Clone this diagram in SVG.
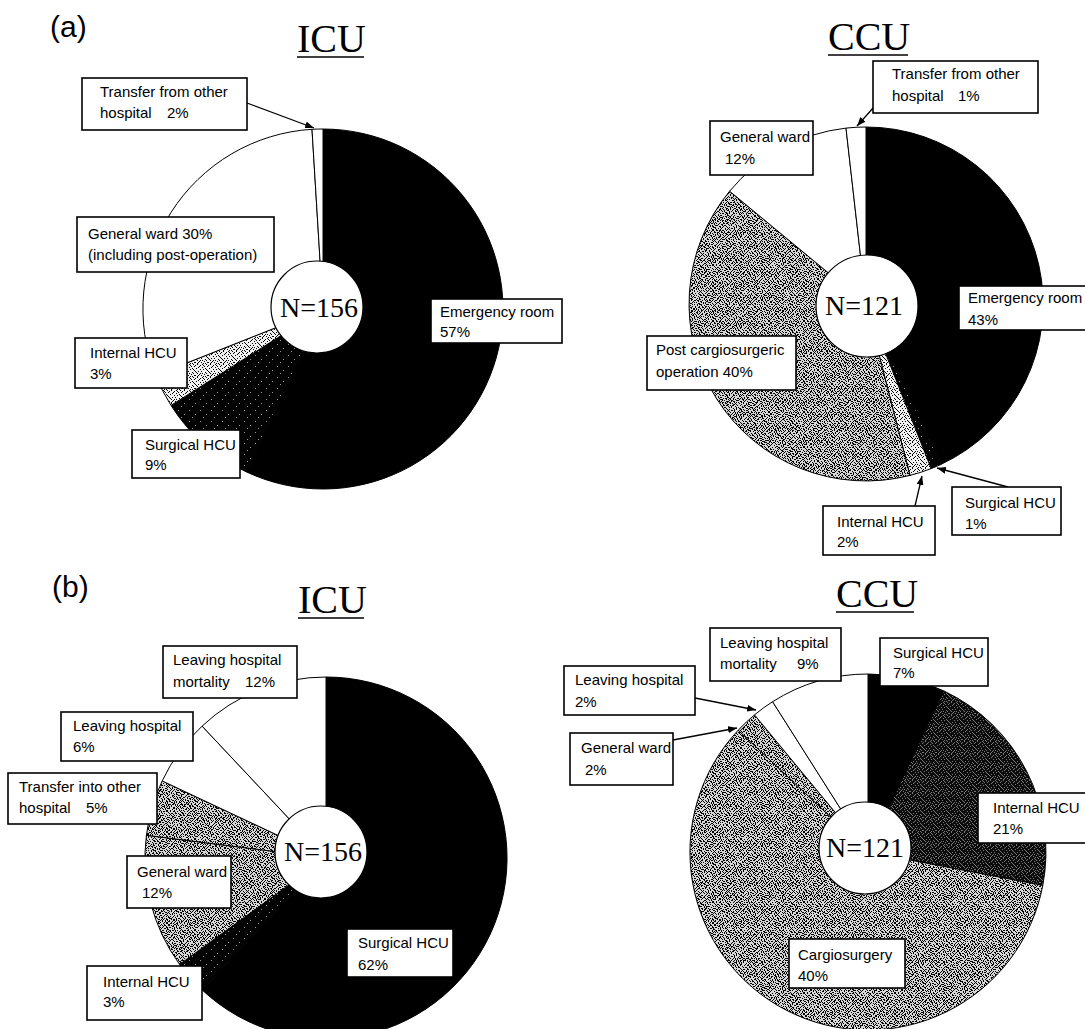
<svg xmlns="http://www.w3.org/2000/svg" xmlns:xlink="http://www.w3.org/1999/xlink" width="1085" height="1029" viewBox="0 0 1085 1029">
<style>
.box{fill:#fff;stroke:#000;stroke-width:1.6}
.lbl{font-family:"Liberation Sans",Arial,sans-serif;font-size:15px;fill:#000}
.title{font-family:"Liberation Serif","Times New Roman",serif;font-size:40px;fill:#000}
.tag{font-family:"Liberation Sans",Arial,sans-serif;font-size:30px;fill:#000}
.n{font-family:"Liberation Serif","Times New Roman",serif;font-size:28px;text-anchor:middle;fill:#000}
.ul{stroke:#000;stroke-width:1.6}
.sl{stroke:#000;stroke-width:1;stroke-linejoin:round}
.blk{fill:#000}
.wht{fill:#fff}
.stp{fill:url(#stip)}
.stl{fill:url(#stipL)}
.drk{fill:url(#dark)}
.dk2{fill:url(#dark2)}
.inner{fill:#fff;stroke:#000;stroke-width:1.2}
.conn{stroke:#000;stroke-width:1.3;fill:none;marker-end:url(#ah)}
</style>
<defs>
<path id="d7" d="M0 0h1v1h-1zM3 1h1v1h-1zM5 2h1v1h-1zM1 3h1v1h-1zM4 4h1v1h-1zM6 5h1v1h-1zM2 6h1v1h-1zM5 6h1v1h-1zM1 1h1v1h-1zM6 3h1v1h-1z"/>
<path id="d13" d="M2 0h1v1h-1zM7 0h1v1h-1zM11 0h1v1h-1zM0 1h1v1h-1zM5 1h1v1h-1zM8 1h1v1h-1zM9 2h1v1h-1zM12 2h1v1h-1zM4 2h1v1h-1zM3 3h1v1h-1zM7 3h1v1h-1zM1 4h1v1h-1zM10 4h1v1h-1zM5 5h1v1h-1zM8 5h1v1h-1zM11 5h1v1h-1zM12 6h1v1h-1zM0 7h1v1h-1zM3 7h1v1h-1zM6 7h1v1h-1zM1 8h1v1h-1zM10 8h1v1h-1zM2 9h1v1h-1zM5 9h1v1h-1zM7 9h1v1h-1zM11 9h1v1h-1zM4 10h1v1h-1zM9 10h1v1h-1zM0 11h1v1h-1zM3 11h1v1h-1zM6 11h1v1h-1zM12 11h1v1h-1zM2 12h1v1h-1zM8 12h1v1h-1zM10 12h1v1h-1z"/>
<path id="d11" d="M2 3h1v1h-1zM8 7h1v1h-1zM5 10h1v1h-1z"/>
<pattern id="a7" patternUnits="userSpaceOnUse" width="7" height="7"><use xlink:href="#d7" fill="#000"/></pattern>
<pattern id="b13" patternUnits="userSpaceOnUse" width="13" height="13"><use xlink:href="#d13" fill="#000"/></pattern>
<pattern id="stip" patternUnits="userSpaceOnUse" width="91" height="91">
<rect width="91" height="91" fill="#d6d6d6"/><rect width="91" height="91" fill="url(#a7)"/><rect width="91" height="91" fill="url(#b13)"/>
</pattern>
<pattern id="stipL" patternUnits="userSpaceOnUse" width="13" height="13">
<rect width="13" height="13" fill="#f0f0f0"/><use xlink:href="#d13" fill="#000"/>
</pattern>
<pattern id="dark" patternUnits="userSpaceOnUse" width="11" height="11">
<rect width="11" height="11" fill="#030303"/><use xlink:href="#d11" fill="#9a9a9a"/>
</pattern>
<pattern id="dark2" patternUnits="userSpaceOnUse" width="13" height="13">
<rect width="13" height="13" fill="#0b0b0b"/><use xlink:href="#d13" fill="#7a7a7a"/>
</pattern>
<marker id="ah" markerUnits="userSpaceOnUse" markerWidth="9" markerHeight="7" refX="9" refY="3.5" orient="auto">
<path d="M0,0 L9,3.5 L0,7 z" fill="#000"/>
</marker>
</defs>
<rect width="1085" height="1029" fill="#fff"/>

<text class="tag" x="50" y="37">(a)</text>
<text class="tag" x="52" y="597">(b)</text>

<g id="title-a-icu"><text class="title" x="297" y="52">ICU</text><line class="ul" x1="297" y1="57" x2="364" y2="57"/></g>
<g id="title-a-ccu"><text class="title" x="828" y="50">CCU</text><line class="ul" x1="828" y1="55" x2="908" y2="55"/></g>
<g id="title-b-icu"><text class="title" x="298" y="613">ICU</text><line class="ul" x1="298" y1="618" x2="364" y2="618"/></g>
<g id="title-b-ccu"><text class="title" x="836" y="607">CCU</text><line class="ul" x1="836" y1="612" x2="914" y2="612"/></g>

<g id="pie-a-icu">
<path class="sl blk" d="M323,309 L323,129 A180,180 0 1 1 246.4,471.9 Z"/>
<path class="sl drk" d="M323,309 L246.4,471.9 A180,180 0 0 1 171.0,405.4 Z"/>
<path class="sl stl" d="M323,309 L171.0,405.4 A180,180 0 0 1 155.6,375.3 Z"/>
<path class="sl wht" d="M323,309 L155.6,375.3 A180,180 0 0 1 312.0,129.3 Z"/>
<path class="sl wht" d="M323,309 L312.0,129.3 A180,180 0 0 1 323,129 Z"/>
<circle class="inner" cx="317" cy="307" r="46"/>
<text class="n" x="319" y="317">N=156</text>
</g>

<g id="pie-a-ccu">
<path class="sl blk" d="M866,304 L866,127 A177,177 0 0 1 941.4,464.2 Z"/>
<path class="sl drk" d="M866,304 L941.4,464.2 A177,177 0 0 1 931.2,468.6 Z"/>
<path class="sl stl" d="M866,304 L931.2,468.6 A177,177 0 0 1 910.0,475.4 Z"/>
<path class="sl stp" d="M866,304 L910.0,475.4 A177,177 0 0 1 729.6,191.2 Z"/>
<path class="sl wht" d="M866,304 L729.6,191.2 A177,177 0 0 1 846.0,128.1 Z"/>
<path class="sl wht" d="M866,304 L846.0,128.1 A177,177 0 0 1 866,127 Z"/>
<circle class="inner" cx="867" cy="306" r="51"/>
<text class="n" x="864" y="315">N=121</text>
</g>

<g id="pie-b-icu">
<path class="sl blk" d="M326,858 L326,677 A181,181 0 1 1 202.1,989.9 Z"/>
<path class="sl drk" d="M326,858 L202.1,989.9 A181,181 0 0 1 179.6,964.4 Z"/>
<path class="sl stp" d="M326,858 L179.6,964.4 A181,181 0 0 1 146.4,835.3 Z"/>
<path class="sl stp" d="M326,858 L146.4,835.3 A181,181 0 0 1 162.2,780.9 Z"/>
<path class="sl wht" d="M326,858 L162.2,780.9 A181,181 0 0 1 202.1,726.1 Z"/>
<path class="sl wht" d="M326,858 L202.1,726.1 A181,181 0 0 1 326,677 Z"/>
<circle class="inner" cx="321" cy="852" r="46"/>
<text class="n" x="323" y="861">N=156</text>
</g>

<g id="pie-b-ccu">
<path class="sl blk" d="M868,852 L868,674 A178,178 0 0 1 943.8,690.9 Z"/>
<path class="sl dk2" d="M868,852 L943.8,690.9 A178,178 0 0 1 1042.8,885.4 Z"/>
<path class="sl stp" d="M868,852 L1042.8,885.4 A178,178 0 1 1 738.2,730.2 Z"/>
<path class="sl stp" d="M868,852 L738.2,730.2 A178,178 0 0 1 754.5,714.9 Z"/>
<path class="sl wht" d="M868,852 L754.5,714.9 A178,178 0 0 1 772.6,701.7 Z"/>
<path class="sl wht" d="M868,852 L772.6,701.7 A178,178 0 0 1 868,674 Z"/>
<circle class="inner" cx="865" cy="848" r="46"/>
<text class="n" x="865" y="857">N=121</text>
</g>

<g id="connectors">
<path class="conn" d="M247,103 L314,128"/>
<path class="conn" d="M874,107 L857,126"/>
<path class="conn" d="M1008,487 L937,468"/>
<path class="conn" d="M915,506 L922,476"/>
<path class="conn" d="M695,698 L756,710"/>
<path class="conn" d="M673,740 L737,728"/>
</g>

<g id="lbl-a-icu-transfer"><rect class="box" x="82" y="78" width="165" height="52"/><text class="lbl" x="100" y="97">Transfer from other</text><text class="lbl" y="118"><tspan x="100">hospital</tspan><tspan x="167">2%</tspan></text></g>
<g id="lbl-a-icu-general"><rect class="box" x="77" y="217" width="197" height="55"/><text class="lbl" x="88" y="239">General ward 30%</text><text class="lbl" x="88" y="260">(including post-operation)</text></g>
<g id="lbl-a-icu-internal"><rect class="box" x="75" y="338" width="112" height="50"/><text class="lbl" x="90" y="358">Internal HCU</text><text class="lbl" x="90" y="379">3%</text></g>
<g id="lbl-a-icu-surgical"><rect class="box" x="132" y="430" width="108" height="48"/><text class="lbl" x="145" y="450">Surgical HCU</text><text class="lbl" x="145" y="470">9%</text></g>
<g id="lbl-a-icu-emergency"><rect class="box" x="431" y="299" width="131" height="44"/><text class="lbl" x="440" y="317">Emergency room</text><text class="lbl" x="440" y="337">57%</text></g>

<g id="lbl-a-ccu-transfer"><rect class="box" x="873" y="61" width="165" height="52"/><text class="lbl" x="892" y="79">Transfer from other</text><text class="lbl" y="101"><tspan x="892">hospital</tspan><tspan x="958">1%</tspan></text></g>
<g id="lbl-a-ccu-general"><rect class="box" x="710" y="121" width="103" height="54"/><text class="lbl" x="720" y="142">General ward</text><text class="lbl" x="725" y="164">12%</text></g>
<g id="lbl-a-ccu-emergency"><rect class="box" x="959" y="286" width="131" height="44"/><text class="lbl" x="968" y="303">Emergency room</text><text class="lbl" x="968" y="325">43%</text></g>
<g id="lbl-a-ccu-post"><rect class="box" x="647" y="336" width="149" height="54"/><text class="lbl" x="656" y="355">Post cargiosurgeric</text><text class="lbl" x="656" y="377">operation 40%</text></g>
<g id="lbl-a-ccu-surgical"><rect class="box" x="952" y="487" width="109" height="48"/><text class="lbl" x="965" y="508">Surgical HCU</text><text class="lbl" x="965" y="529">1%</text></g>
<g id="lbl-a-ccu-internal"><rect class="box" x="823" y="506" width="112" height="49"/><text class="lbl" x="837" y="527">Internal HCU</text><text class="lbl" x="837" y="547">2%</text></g>

<g id="lbl-b-icu-mortality"><rect class="box" x="163" y="646" width="134" height="52"/><text class="lbl" x="173" y="665">Leaving hospital</text><text class="lbl" y="687"><tspan x="173">mortality</tspan><tspan x="245">12%</tspan></text></g>
<g id="lbl-b-icu-leaving"><rect class="box" x="61" y="712" width="132" height="49"/><text class="lbl" x="73" y="731">Leaving hospital</text><text class="lbl" x="73" y="752">6%</text></g>
<g id="lbl-b-icu-transfer"><rect class="box" x="8" y="773" width="149" height="51"/><text class="lbl" x="19" y="792">Transfer into other</text><text class="lbl" y="813"><tspan x="19">hospital</tspan><tspan x="86">5%</tspan></text></g>
<g id="lbl-b-icu-general"><rect class="box" x="127" y="856" width="104" height="52"/><text class="lbl" x="137" y="877">General ward</text><text class="lbl" x="142" y="898">12%</text></g>
<g id="lbl-b-icu-internal"><rect class="box" x="87" y="966" width="115" height="54"/><text class="lbl" x="103" y="987">Internal HCU</text><text class="lbl" x="103" y="1007">3%</text></g>
<g id="lbl-b-icu-surgical"><rect class="box" x="347" y="929" width="106" height="48"/><text class="lbl" x="358" y="948">Surgical HCU</text><text class="lbl" x="358" y="970">62%</text></g>

<g id="lbl-b-ccu-mortality"><rect class="box" x="710" y="628" width="131" height="53"/><text class="lbl" x="720" y="648">Leaving hospital</text><text class="lbl" y="669"><tspan x="720">mortality</tspan><tspan x="797">9%</tspan></text></g>
<g id="lbl-b-ccu-surgical"><rect class="box" x="880" y="638" width="108" height="48"/><text class="lbl" x="893" y="658">Surgical HCU</text><text class="lbl" x="893" y="678">7%</text></g>
<g id="lbl-b-ccu-leaving"><rect class="box" x="564" y="666" width="131" height="49"/><text class="lbl" x="575" y="685">Leaving hospital</text><text class="lbl" x="575" y="707">2%</text></g>
<g id="lbl-b-ccu-general"><rect class="box" x="570" y="733" width="103" height="52"/><text class="lbl" x="581" y="753">General ward</text><text class="lbl" x="585" y="775">2%</text></g>
<g id="lbl-b-ccu-internal"><rect class="box" x="978" y="793" width="112" height="50"/><text class="lbl" x="993" y="813">Internal HCU</text><text class="lbl" x="993" y="834">21%</text></g>
<g id="lbl-b-ccu-cargio"><rect class="box" x="789" y="939" width="116" height="49"/><text class="lbl" x="798" y="960">Cargiosurgery</text><text class="lbl" x="798" y="981">40%</text></g>
</svg>
